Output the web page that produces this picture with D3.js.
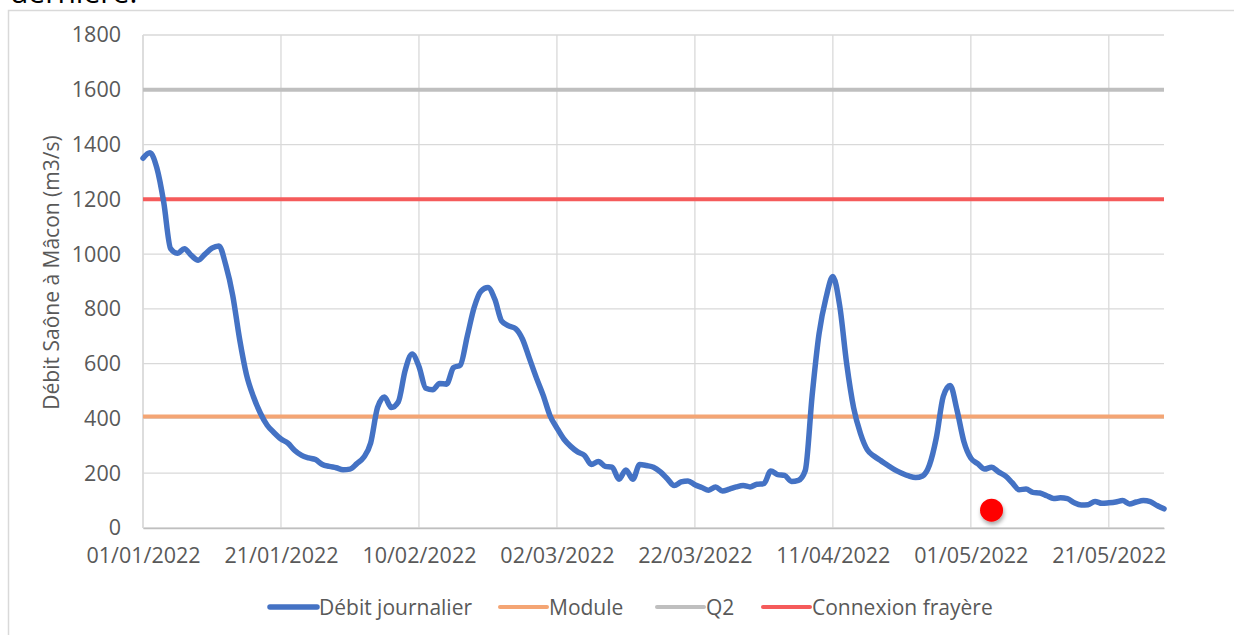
<!DOCTYPE html>
<html>
<head>
<meta charset="utf-8">
<script src="https://cdn.jsdelivr.net/npm/d3@7"></script>
<style>
  body { margin: 0; background: #fff; }
  text { font-family: "Open Sans", sans-serif; }
</style>
</head>
<body>
<div id="chart"></div>
<script>
// débit journalier, un point par jour à partir du 01/01/2022
const startDate = "2022-01-01";
const debitJournalier = [
  1350, 1370, 1315, 1190, 1020, 1003, 1020, 995, 978, 1000,
  1022, 1030, 960, 850, 690, 560, 480, 420, 375, 348,
  325, 310, 283, 265, 256, 250, 232, 225, 220, 213,
  215, 235, 258, 310, 440, 478, 440, 460, 575, 635,
  590, 510, 505, 528, 525, 585, 595, 700, 805, 865,
  878, 835, 755, 738, 728, 690, 620, 550, 485, 410,
  365, 325, 298, 278, 265, 232, 243, 225, 222, 178,
  212, 178, 232, 228, 222, 205, 180, 155, 168, 172,
  158, 148, 138, 150, 135, 142, 150, 155, 150, 160,
  162, 208, 195, 192, 170, 174, 210, 485, 710, 840,
  918, 810, 600, 440, 345, 285, 262, 245, 228, 212,
  200, 190, 184, 190, 230, 330, 480, 520, 430, 315,
  255, 235, 215, 222, 205, 190, 165, 140, 142, 130,
  128, 118, 108, 110, 107, 92, 84, 85, 97, 90,
  92, 95, 100, 88, 95, 100, 96, 82, 70
];
const moduleVal = 407;
const q2Val = 1600;
const connexionVal = 1200;
const pointRouge = { date: "2022-05-04", value: 65 };

const yTicks = [0, 200, 400, 600, 800, 1000, 1200, 1400, 1600, 1800];
const xTickLabels = ["01/01/2022", "21/01/2022", "10/02/2022", "02/03/2022",
  "22/03/2022", "11/04/2022", "01/05/2022", "21/05/2022"];
const legendNames = ["Débit journalier", "Module", "Q2", "Connexion frayère"];
const colors = ["#4472c4", "#f4a574", "#bfbfbf", "#f55b5b"];

const parse = d3.timeParse("%Y-%m-%d");
const parseFr = d3.timeParse("%d/%m/%Y");
const fmt = d3.timeFormat("%d/%m/%Y");
const t0 = parse(startDate);
const data = debitJournalier.map((v, i) => ({ date: d3.timeDay.offset(t0, i), value: v }));

const W = 1234, H = 635;
const margin = {top: 35, right: 70, bottom: 107, left: 143};
const width = W - margin.left - margin.right,
      height = H - margin.top - margin.bottom;

const svg = d3.select("#chart").append("svg")
  .attr("width", W).attr("height", H);

// bout de texte coupé en haut et cadre du graphique
svg.append("text").attr("x", 10).attr("y", 3)
  .attr("font-size", 30).attr("fill", "#000").text("dernière.");
svg.append("path")
  .attr("d", "M8.5,635 V10.5 H1234")
  .attr("fill", "none").attr("stroke", "#d9d9d9").attr("stroke-width", 1.5);

const g = svg.append("g").attr("transform", `translate(${margin.left},${margin.top})`);

const x = d3.scaleTime()
  .domain([t0, data[data.length - 1].date])
  .range([0, width]);
const y = d3.scaleLinear().domain([0, 1800]).range([height, 0]);

// grille
g.append("g").selectAll("line").data(yTicks).join("line")
  .attr("x1", 0).attr("x2", width)
  .attr("y1", d => y(d)).attr("y2", d => y(d))
  .attr("stroke", "#d9d9d9").attr("stroke-width", 1.3);

const tickDates = xTickLabels.map(parseFr);
g.append("g").selectAll("line").data(tickDates).join("line")
  .attr("x1", d => x(d)).attr("x2", d => x(d))
  .attr("y1", 0).attr("y2", height)
  .attr("stroke", "#d9d9d9").attr("stroke-width", 1.3);

// axes
const yAxis = g.append("g")
  .call(d3.axisLeft(y).tickValues(yTicks).tickFormat(d3.format("d")).tickSize(0).tickPadding(22));
yAxis.select(".domain").remove();
yAxis.selectAll("text").attr("font-size", 21.5).attr("fill", "#595959")
  .style("font-family", "'Open Sans', sans-serif");

const xAxis = g.append("g").attr("transform", `translate(0,${height})`)
  .call(d3.axisBottom(x).tickValues(tickDates).tickFormat(fmt).tickSize(0).tickPadding(20));
xAxis.select(".domain").attr("stroke", "#bfbfbf").attr("stroke-width", 1.5);
xAxis.selectAll("text").attr("font-size", 21.5).attr("fill", "#595959")
  .style("font-family", "'Open Sans', sans-serif");

g.append("line").attr("x1", 0).attr("x2", 0).attr("y1", 0).attr("y2", height)
  .attr("stroke", "#d9d9d9").attr("stroke-width", 1.3);

svg.append("text")
  .attr("transform", `translate(59,${margin.top + height / 2 - 9}) rotate(-90)`)
  .attr("text-anchor", "middle").attr("font-size", 21).attr("fill", "#595959")
  .text("Débit Saône à Mâcon (m3/s)");

// lignes de référence
const refs = [
  { value: q2Val, color: colors[2] },
  { value: connexionVal, color: colors[3] },
  { value: moduleVal, color: colors[1] }
];
g.append("g").selectAll("line").data(refs).join("line")
  .attr("x1", 0).attr("x2", width)
  .attr("y1", d => y(d.value)).attr("y2", d => y(d.value))
  .attr("stroke", d => d.color).attr("stroke-width", 4);

// débit journalier
const line = d3.line()
  .x(d => x(d.date))
  .y(d => y(d.value))
  .curve(d3.curveMonotoneX);

g.append("path").datum(data)
  .attr("fill", "none").attr("stroke", colors[0])
  .attr("stroke-width", 5.5).attr("stroke-linejoin", "round").attr("stroke-linecap", "round")
  .attr("d", line);

// point rouge avec ombre
const defs = svg.append("defs");
const f = defs.append("filter").attr("id", "ombre")
  .attr("x", "-50%").attr("y", "-50%").attr("width", "200%").attr("height", "200%");
f.append("feDropShadow").attr("dx", 1).attr("dy", 3).attr("stdDeviation", 2)
  .attr("flood-color", "#000").attr("flood-opacity", 0.35);
g.append("circle")
  .attr("cx", x(parse(pointRouge.date))).attr("cy", y(pointRouge.value))
  .attr("r", 11.5).attr("fill", "#ff0000").attr("filter", "url(#ombre)");

// légende
const legendX = [270, 500, 657, 763];
const leg = svg.append("g").attr("transform", "translate(0,607)");
legendNames.forEach((name, i) => {
  leg.append("line").attr("x1", legendX[i]).attr("x2", legendX[i] + 47)
    .attr("y1", 0).attr("y2", 0)
    .attr("stroke", colors[i]).attr("stroke-width", i === 0 ? 5.5 : 4)
    .attr("stroke-linecap", "round");
  leg.append("text").attr("x", legendX[i] + 49).attr("y", 8)
    .attr("font-size", 21).attr("fill", "#595959").text(name);
});
</script>
</body>
</html>
